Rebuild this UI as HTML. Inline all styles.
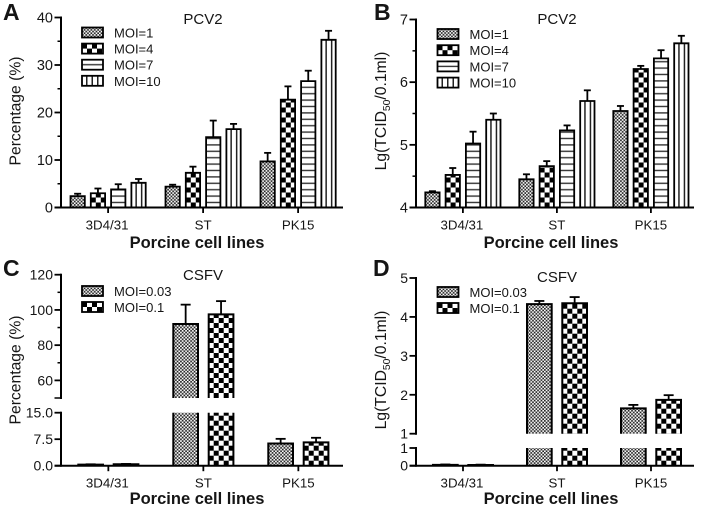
<!DOCTYPE html>
<html>
<head>
<meta charset="utf-8">
<title>Porcine cell line infection charts</title>
<style>
html,body{margin:0;padding:0;background:#fff;}
#figure{display:block;width:702px;height:518px;font-family:"Liberation Sans",sans-serif;filter:blur(0.3px);}
text{fill:#151515;font-family:"Liberation Sans",sans-serif;}
</style>
</head>
<body>
<svg id="figure" xmlns="http://www.w3.org/2000/svg" width="702" height="518" viewBox="0 0 702 518">
<defs>
<pattern id="fine" patternUnits="userSpaceOnUse" width="3.4" height="3.4">
<rect width="3.4" height="3.4" fill="#fff"/><rect width="1.7" height="1.7" fill="#222"/><rect x="1.7" y="1.7" width="1.7" height="1.7" fill="#222"/>
</pattern>
<pattern id="coarse" patternUnits="userSpaceOnUse" width="10" height="10">
<rect width="10" height="10" fill="#fff"/><rect width="5" height="5" fill="#000"/><rect x="5" y="5" width="5" height="5" fill="#000"/>
</pattern>
<pattern id="horiz" patternUnits="userSpaceOnUse" width="6.4" height="6.4">
<rect width="6.4" height="6.4" fill="#fff"/><rect y="0.7" width="6.4" height="1.4" fill="#333"/>
</pattern>
<pattern id="vert" patternUnits="userSpaceOnUse" width="5.5" height="5">
<rect width="5.5" height="5" fill="#fff"/><rect x="4" width="1.5" height="5" fill="#222"/>
</pattern>
</defs>
</svg>
<script>
const categories = ["3D4/31", "ST", "PK15"];
const pcvLegend = ["MOI=1", "MOI=4", "MOI=7", "MOI=10"];
const csfvLegend = ["MOI=0.03", "MOI=0.1"];

const aMoi1 = [2.4, 4.4, 9.7];
const aMoi1Err = [0.5, 0.4, 1.8];
const aMoi4 = [3.0, 7.3, 22.7];
const aMoi4Err = [1.0, 1.3, 2.8];
const aMoi7 = [3.8, 14.8, 26.6];
const aMoi7Err = [1.1, 3.5, 2.2];
const aMoi10 = [5.2, 16.5, 35.3];
const aMoi10Err = [0.8, 1.1, 1.9];
const aTicks = [0, 10, 20, 30, 40];
const aMinorTicks = [5, 15, 25, 35];

const bMoi1 = [4.24, 4.45, 5.54];
const bMoi1Err = [0.02, 0.08, 0.08];
const bMoi4 = [4.52, 4.66, 6.21];
const bMoi4Err = [0.11, 0.08, 0.05];
const bMoi7 = [5.02, 5.23, 6.38];
const bMoi7Err = [0.19, 0.08, 0.13];
const bMoi10 = [5.40, 5.70, 6.62];
const bMoi10Err = [0.10, 0.17, 0.12];
const bTicks = [4, 5, 6, 7];
const bMinorTicks = [4.5, 5.5, 6.5];

const cMoi003 = [0.3, 92, 6.3];
const cMoi003Err = [0.1, 11, 1.3];
const cMoi01 = [0.4, 97.5, 6.6];
const cMoi01Err = [0.1, 7.5, 1.3];
const cLowTicks = [0, 7.5, 15];
const cLowTickLabels = ["0.0", "7.5", "15.0"];
const cHighTicks = [60, 80, 100, 120];
const cHighMinorTicks = [50, 70, 90, 110];

const dMoi003 = [0.05, 4.33, 1.65];
const dMoi003Err = [0.02, 0.08, 0.09];
const dMoi01 = [0.04, 4.35, 1.87];
const dMoi01Err = [0.02, 0.16, 0.12];
const dLowTicks = [0, 1];
const dHighTicks = [1, 2, 3, 4, 5];

const svg = document.getElementById('figure');
const NS = 'http://www.w3.org/2000/svg';

function mk(tag, parent, props) {
  const el = document.createElementNS(NS, tag);
  for (const k in props) el.setAttribute(k, props[k]);
  parent.appendChild(el);
  return el;
}

function line(parent, x1, y1, x2, y2, w) {
  return mk('line', parent, {x1: x1, y1: y1, x2: x2, y2: y2, stroke: '#000', 'stroke-width': w});
}

function label(parent, str, x, y, size, anchor, weight) {
  const t = mk('text', parent, {x: x, y: y, 'font-size': size, 'text-anchor': anchor || 'start', 'font-weight': weight || 'normal'});
  t.textContent = str;
  return t;
}

function scaleFor(seg, v) {
  return seg.y0 + (v - seg.d0) / (seg.d1 - seg.d0) * (seg.y1 - seg.y0);
}

function drawPanel(p) {
  const g = mk('g', svg, {});
  
  

  const letter = label(g, p.letter, p.letterX, p.letterY, 23, 'start', 'bold');
  
  

  const title = label(g, p.title, p.titleX, p.titleY, 15, 'middle');
  
  

  const groupCenter = function (i) {
    return p.x0 + i * p.groupStep + ((p.series.length - 1) * p.barStep + p.barW) / 2;
  };

  p.series.forEach(function (values, s) {
    const errs = p.errors[s];
    values.forEach(function (v, i) {
      const x = p.x0 + i * p.groupStep + s * p.barStep;
      const bar = mk('g', g, {});
      
      
      p.segments.forEach(function (seg) {
        if (v <= seg.d0) return;
        const capped = v > seg.d1;
        const top = scaleFor(seg, capped ? seg.d1 : v);
        const base = seg.y0;
        mk('rect', bar, {x: 0, y: top - base, width: p.barW, height: base - top, fill: 'url(#' + p.fills[s] + ')', transform: 'translate(' + x + ',' + base + ')'});
        const d = 'M' + x + ' ' + base + 'V' + top + (capped ? 'M' + (x + p.barW) + ' ' + top : 'H' + (x + p.barW)) + 'V' + base;
        mk('path', bar, {d: d, fill: 'none', stroke: '#000', 'stroke-width': p.barStroke});
        const tip = v + errs[i];
        if (v <= seg.d1) {
          const cx = x + p.barW / 2;
          const yt = scaleFor(seg, tip);
          line(bar, cx, top, cx, yt, 1.8);
          line(bar, cx - p.capW / 2, yt, cx + p.capW / 2, yt, 1.8);
        }
      });
    });
  });

  const yAxis = mk('g', g, {});
  
  
  p.segments.forEach(function (seg) {
    line(yAxis, p.axisX, seg.y0 + 1, p.axisX, seg.y1 - 1, 2);
    seg.ticks.forEach(function (v, k) {
      const y = scaleFor(seg, v);
      line(yAxis, p.axisX - 6.5, y, p.axisX, y, 1.8);
      const text = seg.tickLabels ? seg.tickLabels[k] : String(v);
      label(yAxis, text, p.axisX - 8, y + 5, p.tickSize, 'end');
    });
    seg.minor.forEach(function (v) {
      const y = scaleFor(seg, v);
      const len = seg.minorLong && seg.minorLong.indexOf(v) >= 0 ? 6.5 : 3.5;
      line(yAxis, p.axisX - len, y, p.axisX, y, 1.5);
    });
  });

  const xAxis = mk('g', g, {});
  
  
  const y0 = p.segments[0].y0;
  line(xAxis, p.axisX - 6.5, y0, p.axisEnd, y0, 2);
  categories.forEach(function (c, i) {
    const cx = groupCenter(i);
    line(xAxis, cx, y0, cx, y0 + 5.5, 1.8);
    label(xAxis, c, cx + (i === 0 ? -1 : 0), y0 + 22, 13.3, 'middle');
  });

  const xt = label(g, 'Porcine cell lines', p.xTitleX, p.xTitleY, 16.5, 'middle', 'bold');
  
  

  const yt = mk('text', g, {'font-size': p.yTitleSize, 'text-anchor': 'middle', transform: 'translate(' + p.yTitleX + ',' + p.yTitleY + ') rotate(-90)'});
  
  
  p.yTitle.forEach(function (part) {
    const ts = mk('tspan', yt, part.sub ? {'font-size': p.yTitleSize * 0.66, dy: 4} : (part.after ? {dy: -4} : {}));
    ts.textContent = part.text;
  });

  p.legend.forEach(function (name, s) {
    const row = mk('g', g, {});
    
    
    const cy = p.legendY + s * p.legendStep;
    mk('rect', row, {x: 0, y: -10, width: 21, height: 10, fill: 'url(#' + p.fills[s] + ')', stroke: '#000', 'stroke-width': 1.8, transform: 'translate(' + p.legendX + ',' + (cy + 5) + ')'});
    label(row, name, p.legendX + 32, cy + 5, 13, 'start');
  });
}

drawPanel({
  name: 'panel-a-pcv2-percentage', letter: 'A', letterX: 3, letterY: 20, title: 'PCV2', titleX: 203, titleY: 24,
  x0: 70.5, groupStep: 95, barStep: 20.3, barW: 14.3, barStroke: 1.8, capW: 7,
  axisX: 61, axisEnd: 343, tickSize: 14.5,
  fills: ['fine', 'coarse', 'horiz', 'vert'],
  series: [aMoi1, aMoi4, aMoi7, aMoi10],
  errors: [aMoi1Err, aMoi4Err, aMoi7Err, aMoi10Err],
  segments: [{d0: 0, d1: 40, y0: 207.5, y1: 17.5, ticks: aTicks, minor: aMinorTicks}],
  legend: pcvLegend, legendX: 82, legendY: 32.5, legendStep: 16.1,
  xTitleX: 197, xTitleY: 248,
  yTitle: [{text: 'Percentage (%)'}], yTitleSize: 15.7, yTitleX: 20.5, yTitleY: 111
});

drawPanel({
  name: 'panel-b-pcv2-titer', letter: 'B', letterX: 374, letterY: 20, title: 'PCV2', titleX: 557, titleY: 24,
  x0: 425.3, groupStep: 94, barStep: 20.3, barW: 14.3, barStroke: 1.8, capW: 7,
  axisX: 416, axisEnd: 694, tickSize: 14.5,
  fills: ['fine', 'coarse', 'horiz', 'vert'],
  series: [bMoi1, bMoi4, bMoi7, bMoi10],
  errors: [bMoi1Err, bMoi4Err, bMoi7Err, bMoi10Err],
  segments: [{d0: 4, d1: 7, y0: 207.5, y1: 19.5, ticks: bTicks, minor: bMinorTicks}],
  legend: pcvLegend, legendX: 437.5, legendY: 34, legendStep: 16.2,
  xTitleX: 551, xTitleY: 248,
  yTitle: [{text: 'Lg(TCID'}, {text: '50', sub: true}, {text: '/0.1ml)', after: true}], yTitleSize: 15.7, yTitleX: 386, yTitleY: 111
});

drawPanel({
  name: 'panel-c-csfv-percentage', letter: 'C', letterX: 3, letterY: 276, title: 'CSFV', titleX: 203, titleY: 280,
  x0: 78.3, groupStep: 95, barStep: 35.4, barW: 24.7, barStroke: 2, capW: 10,
  axisX: 61, axisEnd: 343, tickSize: 14,
  fills: ['fine', 'coarse'],
  series: [cMoi003, cMoi01],
  errors: [cMoi003Err, cMoi01Err],
  segments: [
    {d0: 0, d1: 15, y0: 465.7, y1: 412.7, ticks: cLowTicks, tickLabels: cLowTickLabels, minor: []},
    {d0: 50, d1: 120, y0: 398, y1: 274.7, ticks: cHighTicks, minor: cHighMinorTicks, minorLong: [50]}
  ],
  legend: csfvLegend, legendX: 82, legendY: 291, legendStep: 16,
  xTitleX: 197, xTitleY: 504,
  yTitle: [{text: 'Percentage (%)'}], yTitleSize: 15.7, yTitleX: 20.5, yTitleY: 370
});

drawPanel({
  name: 'panel-d-csfv-titer', letter: 'D', letterX: 373, letterY: 276, title: 'CSFV', titleX: 557, titleY: 282,
  x0: 433, groupStep: 94, barStep: 35.3, barW: 24.7, barStroke: 2, capW: 10,
  axisX: 416, axisEnd: 694, tickSize: 14,
  fills: ['fine', 'coarse'],
  series: [dMoi003, dMoi01],
  errors: [dMoi003Err, dMoi01Err],
  segments: [
    {d0: 0, d1: 1, y0: 465.7, y1: 448, ticks: dLowTicks, minor: []},
    {d0: 1, d1: 5, y0: 433.7, y1: 278, ticks: dHighTicks, minor: []}
  ],
  legend: csfvLegend, legendX: 437.5, legendY: 292, legendStep: 16,
  xTitleX: 551, xTitleY: 504,
  yTitle: [{text: 'Lg(TCID'}, {text: '50', sub: true}, {text: '/0.1ml)', after: true}], yTitleSize: 15.7, yTitleX: 386, yTitleY: 370
});
</script>
</body>
</html>
